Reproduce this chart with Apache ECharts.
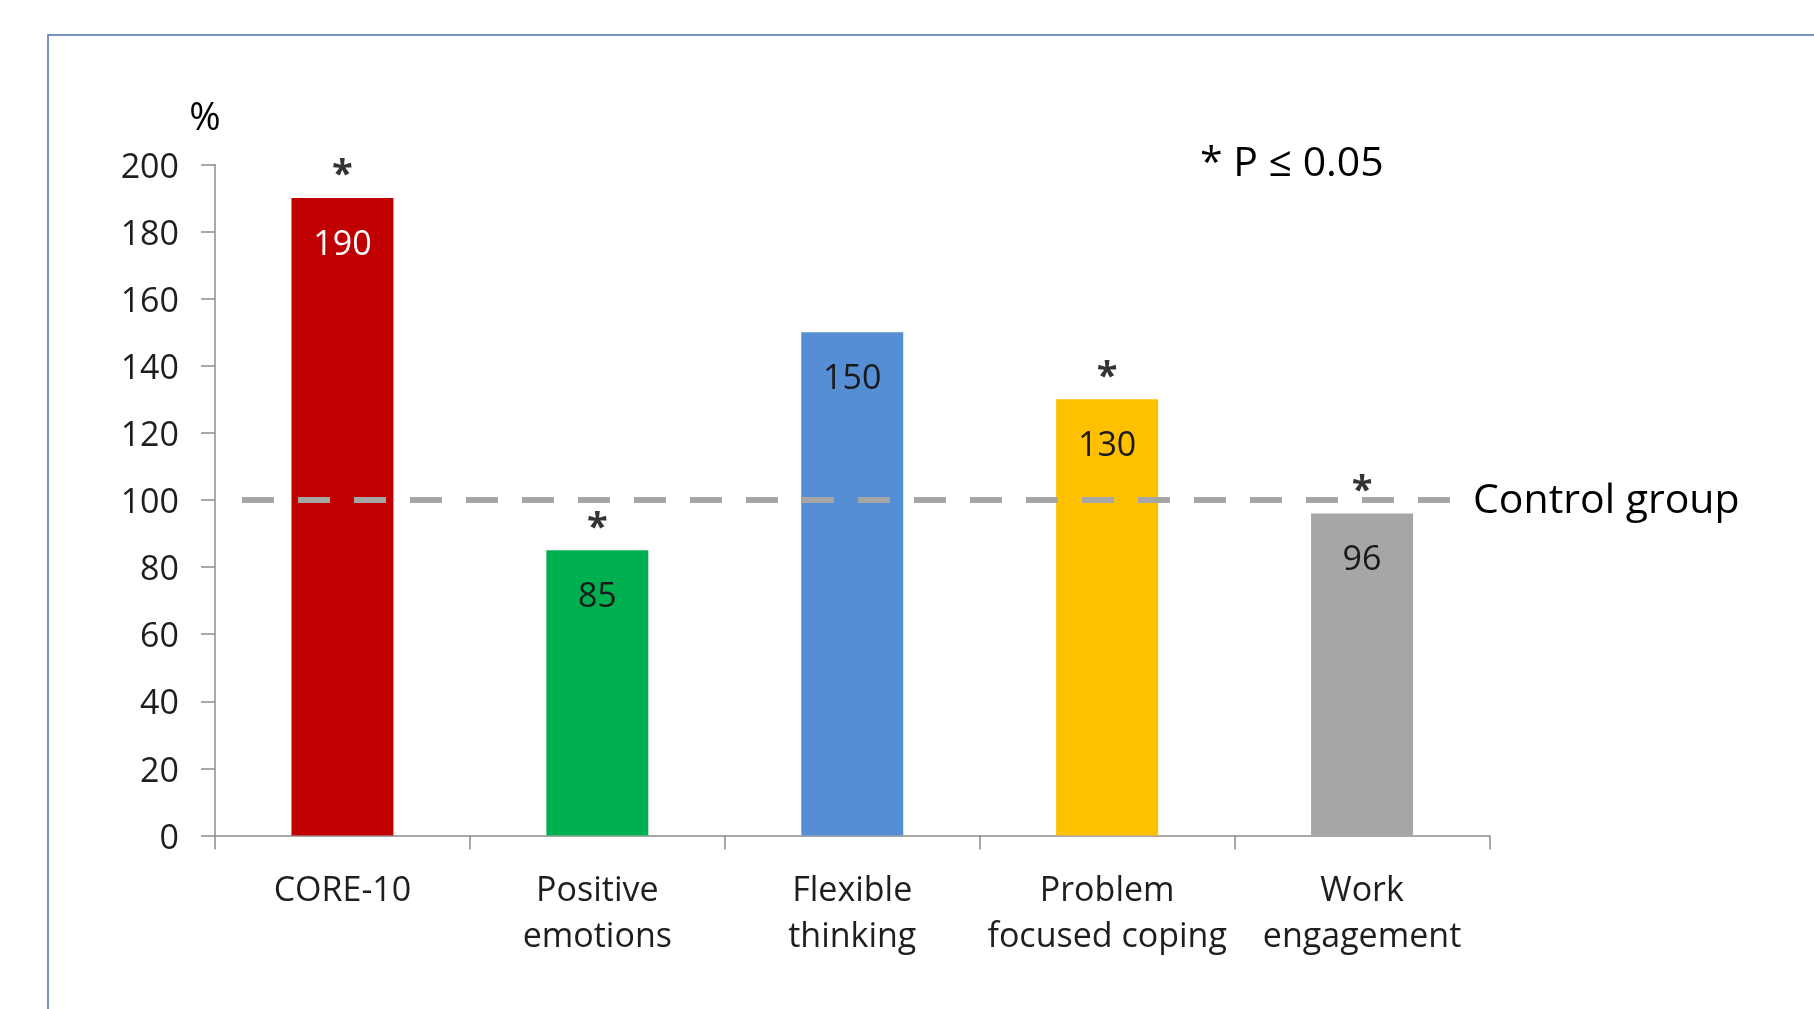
<!DOCTYPE html>
<html>
<head>
<meta charset="utf-8">
<title>Outcomes relative to control group</title>
<script src="https://cdn.jsdelivr.net/npm/echarts@6/dist/echarts.min.js"></script>
<style>
  html, body { margin: 0; padding: 0; background: #ffffff; }
  #chart { width: 1814px; height: 1009px; }
</style>
</head>
<body>
<div id="chart"></div>
<script>
// Outcome measures, expressed as % of the control group
const categories = ['CORE-10', 'Positive\nemotions', 'Flexible\nthinking', 'Problem\nfocused coping', 'Work\nengagement'];
const values = [190, 85, 150, 130, 96];
const significant = [true, true, false, true, true];
const controlValue = 100;
const yMin = 0;
const yMax = 200;
const yStep = 20;

// Styling
const barColors = ['#C00000', '#00B050', '#558ED5', '#FFC000', '#A6A6A6'];
const valueLabelColors = ['#ffffff', '#1a1a1a', '#1a1a1a', '#1a1a1a', '#1a1a1a'];
const FONT = '"Open Sans", "Noto Sans", sans-serif';
const TEXT = '#1e1e1e';
const AXIS = '#8c8c8c';
const GRID = { left: 215, right: 324.5, top: 164.5, bottom: 173.5 };

const chart = echarts.init(document.getElementById('chart'), null, { renderer: 'canvas' });

const barData = values.map((v, i) => ({
  value: v,
  itemStyle: { color: barColors[i] },
  label: { color: valueLabelColors[i] }
}));

const starData = values
  .map((v, i) => (significant[i] ? [i, v] : null))
  .filter(d => d !== null);

chart.setOption({
  animation: false,
  backgroundColor: '#ffffff',
  textStyle: { fontFamily: FONT },
  grid: { left: GRID.left, right: GRID.right, top: GRID.top, bottom: GRID.bottom, containLabel: false },
  xAxis: {
    type: 'category',
    data: categories,
    boundaryGap: true,
    axisLine: { show: true, lineStyle: { color: AXIS, width: 1.5 } },
    axisTick: { show: true, length: 14, lineStyle: { color: AXIS, width: 1.5 } },
    axisLabel: {
      interval: 0,
      margin: 33,
      fontSize: 34,
      lineHeight: 46,
      color: TEXT,
      fontFamily: FONT
    },
    splitLine: { show: false }
  },
  yAxis: {
    type: 'value',
    min: yMin,
    max: yMax,
    interval: yStep,
    axisLine: { show: true, lineStyle: { color: AXIS, width: 1.5 } },
    axisTick: { show: true, length: 14, lineStyle: { color: AXIS, width: 1.5 } },
    axisLabel: {
      margin: 36,
      formatter: '{t|{value}}',
      rich: {
        t: { fontSize: 34, color: TEXT, fontFamily: FONT, padding: [7, 0, 0, 0] }
      }
    },
    splitLine: { show: false }
  },
  series: [
    {
      type: 'bar',
      data: barData,
      barWidth: '40%',
      label: {
        show: true,
        position: 'insideTop',
        distance: 30,
        fontSize: 34,
        fontFamily: FONT
      }
    },
    {
      // significance markers above bars
      type: 'scatter',
      data: starData,
      symbol: 'circle',
      symbolSize: 1,
      itemStyle: { color: 'rgba(0,0,0,0)' },
      label: {
        show: true,
        position: 'top',
        distance: 2,
        formatter: '*',
        fontSize: 38,
        fontWeight: 'bold',
        color: '#000000',
        fontFamily: FONT
      },
      z: 5
    }
  ]
});

// Control-group reference line and annotations
const lineY = chart.convertToPixel({ yAxisIndex: 0 }, controlValue);
const plotRight = 1814 - GRID.right;

chart.setOption({
  graphic: [
    {
      type: 'rect',
      shape: { x: 48, y: 35, width: 2000, height: 2000 },
      style: { fill: null, stroke: '#4e71a6', lineWidth: 1.5 },
      silent: true,
      z: 0
    },
    {
      type: 'line',
      shape: { x1: GRID.left + 27, y1: lineY, x2: plotRight - 39, y2: lineY },
      style: { stroke: '#A6A6A6', lineWidth: 6, lineDash: [32, 24] },
      silent: true,
      z: 10
    },
    {
      type: 'text',
      x: 1473,
      y: lineY + 1,
      style: { text: 'Control group', fontSize: 41, fontFamily: FONT, fill: '#000000', textVerticalAlign: 'middle', textAlign: 'left' },
      z: 10
    },
    {
      type: 'text',
      x: 205,
      y: 119,
      style: { text: '%', fontSize: 38, fontFamily: FONT, fill: '#000000', textVerticalAlign: 'middle', textAlign: 'center' },
      z: 10
    },
    {
      type: 'text',
      x: 1200,
      y: 164,
      style: { text: '* P \u2264 0.05', fontSize: 41, fontFamily: FONT, fill: '#000000', textVerticalAlign: 'middle', textAlign: 'left' },
      z: 10
    }
  ]
});
</script>
</body>
</html>
